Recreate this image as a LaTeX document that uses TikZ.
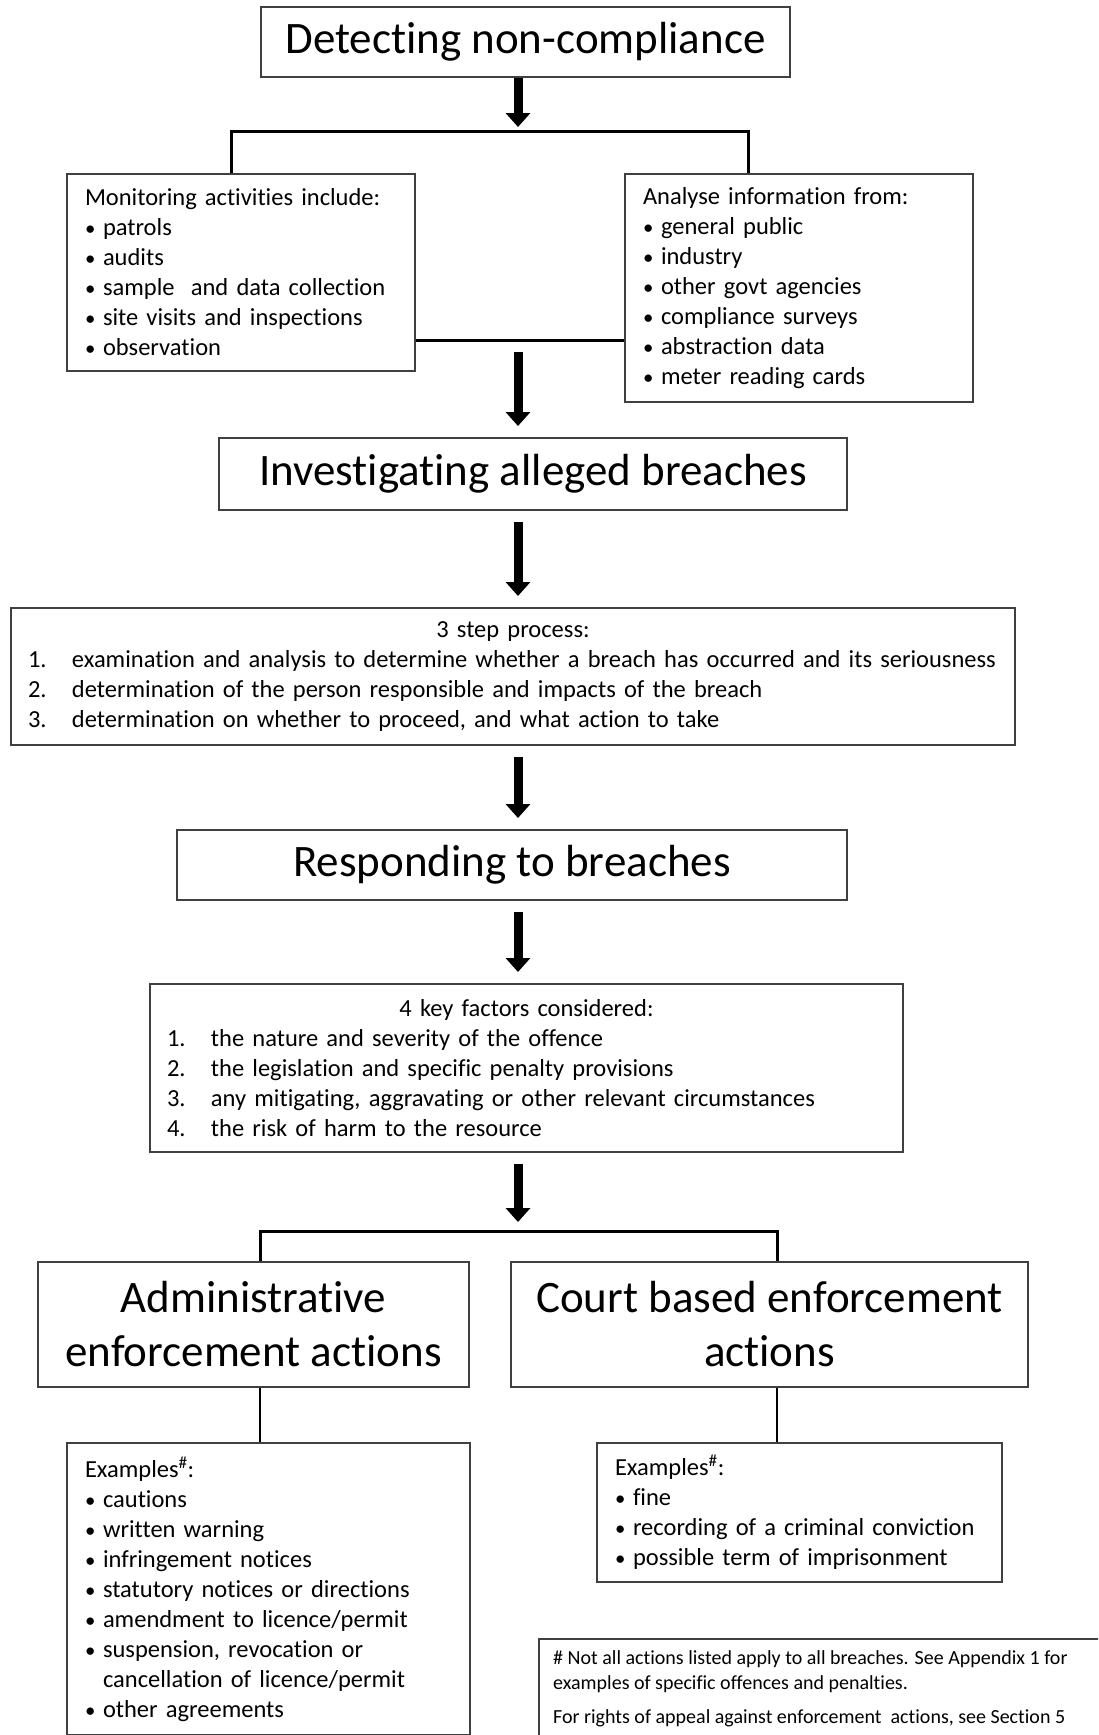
\documentclass[tikz,border=0pt]{standalone}
\usepackage{fontspec}
\setmainfont{Carlito}[Ligatures=NoCommon]
\usetikzlibrary{arrows.meta, positioning}
\definecolor{boxgray}{RGB}{64,64,64}
\newcommand{\bul}[1]{\makebox[18pt][l]{\scalebox{0.85}{\textbullet}}#1}
\newcommand{\stepitem}[2]{\makebox[44pt][l]{#1}#2}
\newcommand{\listhead}[1]{\hspace*{\fill}#1\hspace*{\fill}\null}
\tikzset{
x=1pt, y=-1pt, % one unit is one pixel of the reference, y grows downwards
frame/.style={draw=boxgray, line width=2pt, rectangle, inner sep=0pt}, % every box
headbox/.style={frame, align=center, font=\fontsize{45}{54}\selectfont}, % the stage titles
listbox/.style={frame, anchor=north west, align=left, inner xsep=18pt, font=\fontsize{24.5}{30}\selectfont}, % the boxes with lists
flow/.style={-{Triangle[width=24pt, length=14pt]}, line width=9pt, shorten <=11pt, shorten >=11pt}, % the thick arrows
link/.style={line width=3pt}, % the brackets
}

\begin{document}
\begin{tikzpicture}
      \useasboundingbox (0,0) rectangle (1098,1735);
      \clip (0,0) rectangle (1098,1735);
      \fill[white] (0,0) rectangle (1098,1735);
      \coordinate (spine) at (518,0);
      \coordinate (bl) at (231,131);
      \coordinate (br) at (748,131);
      \coordinate (join) at (518,340);
      \coordinate (cl) at (260,1231);
      \coordinate (cr) at (777,1231);

      \node[headbox, minimum width=529pt, minimum height=70pt] (det) at (525.5,42) {Detecting non-compliance};
      \node[listbox, text width=312pt, minimum height=197pt] (mon) at (66,173) {Monitoring activities include:\\
        \bul{patrols}\\
        \bul{audits}\\
        \bul{sample\ \ and data collection}\\
        \bul{site visits and inspections}\\
        \bul{observation}};
      \node[listbox, text width=312pt, minimum height=228pt] (ana) at (624,173) {Analyse information from:\\
        \bul{general public}\\
        \bul{industry}\\
        \bul{other govt agencies}\\
        \bul{compliance surveys}\\
        \bul{abstraction data}\\
        \bul{meter reading cards}};
      \node[headbox, minimum width=628pt, minimum height=72pt] (inv) at (533,474) {Investigating alleged breaches};
      \node[listbox, inner xsep=17pt, text width=970pt, minimum height=137pt] (step) at (10,607) {\listhead{3 step process:}\\
        \stepitem{1.}{examination and analysis to determine whether a breach has occurred and its seriousness}\\
        \stepitem{2.}{determination of the person responsible and impacts of the breach}\\
        \stepitem{3.}{determination on whether to proceed, and what action to take}};
      \node[headbox, minimum width=670pt, minimum height=70pt] (resp) at (512,865) {Responding to breaches};
      \node[listbox, inner xsep=17pt, text width=719pt, minimum height=168pt] (key) at (149,983) {\listhead{4 key factors considered:}\\
        \stepitem{1.}{the nature and severity of the offence}\\
        \stepitem{2.}{the legislation and specific penalty provisions}\\
        \stepitem{3.}{any mitigating, aggravating or other relevant circumstances}\\
        \stepitem{4.}{the risk of harm to the resource}};
      \node[headbox, minimum width=431pt, minimum height=125pt] (adm) at (253.5,1324.5) {Administrative\\enforcement actions};
      \node[headbox, minimum width=517pt, minimum height=125pt] (crt) at (769.5,1324.5) {Court based enforcement\\actions};
      \node[listbox, text width=367pt, minimum height=292pt] (admex) at (66,1442) {Examples\textsuperscript{\#}:\\
        \bul{cautions}\\
        \bul{written warning}\\
        \bul{infringement notices}\\
        \bul{statutory notices or directions}\\
        \bul{amendment to licence/permit}\\
        \bul{suspension, revocation or}\\
        \hspace*{18pt}cancellation of licence/permit\\
        \bul{other agreements}};
      \node[listbox, text width=369pt, minimum height=139pt] (crtex) at (596,1442) {Examples\textsuperscript{\#}:\\
        \bul{fine}\\
        \bul{recording of a criminal conviction}\\
        \bul{possible term of imprisonment}};
      \node[frame, anchor=north west, minimum width=600pt, minimum height=140pt] (note) at (538,1638) {};
      \node[anchor=north west, align=left, inner sep=0pt, font=\fontsize{20}{25}\selectfont] (notetext) at ([xshift=15pt, yshift=-12pt]note.north west) {\# Not all actions listed apply to all breaches. See Appendix 1 for\\
        examples of specific offences and penalties.\\[9pt]
        For rights of appeal against enforcement\ \ actions, see Section 5};

      % arrows down the middle
      \draw[flow, shorten <=0pt, shorten >=4pt] (det.south -| spine) -- (spine |- bl);
      \draw[link] (bl |- mon.north) -- (bl) -- (br) -- (br |- ana.north);
      \draw[link] (mon.east |- join) -- (ana.west |- join);
      \draw[flow, shorten <=12pt] (join) -- (inv.north -| spine);
      \draw[flow] (inv.south -| spine) -- (step.north -| spine);
      \draw[flow] (step.south -| spine) -- (resp.north -| spine);
      \draw[flow] (resp.south -| spine) -- (key.north -| spine);
      \draw[flow, shorten >=9pt] (key.south -| spine) -- (spine |- cl);
      \draw[link] (cl |- adm.north) -- (cl) -- (cr) -- (cr |- crt.north);
      \draw[link, line width=2.5pt] (cl |- adm.south) -- (cl |- admex.north);
      \draw[link, line width=2.5pt] (cr |- crt.south) -- (cr |- crtex.north);
\end{tikzpicture}
\end{document}
